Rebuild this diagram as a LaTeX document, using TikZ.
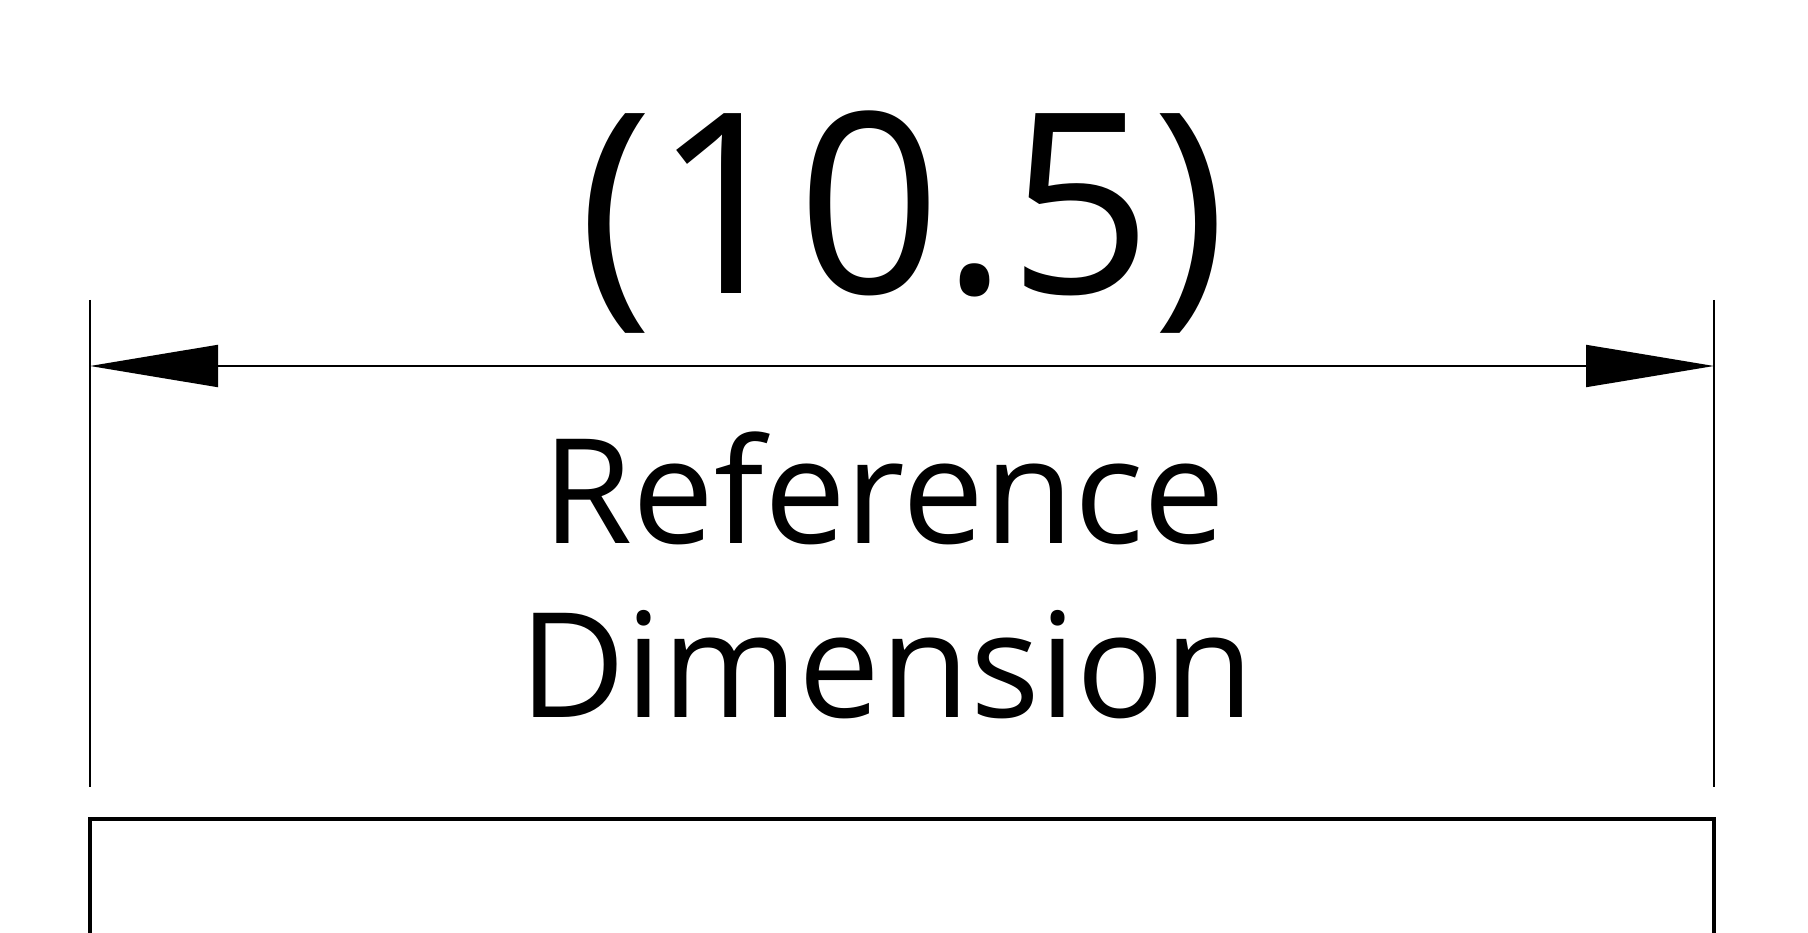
\documentclass[tikz,border=0pt]{standalone}
\usepackage{fontspec}
\setmainfont{Open Sans}
\usetikzlibrary{
	positioning,
	arrows.meta
}

\begin{document}
\begin{tikzpicture}[x=1pt,y=-1pt,
	extline/.style={line width=2pt},
	dimline/.style={line width=2pt,
		{Triangle[length=128pt,width=42pt]}-{Triangle[length=128pt,width=42pt]}},
	partedge/.style={line width=4pt,line join=miter},
	valuetext/.style={font=\fontsize{252}{300}\selectfont,anchor=base,inner sep=0pt},
	notetext/.style={font=\fontsize{146}{174}\selectfont,anchor=base,inner sep=0pt}]
	\useasboundingbox (0,0) rectangle (1808,933);
	% extension lines
	\coordinate (extLtop) at (90,300);
	\coordinate (extLbot) at (90,787);
	\coordinate (extRtop) at (1714,300);
	\coordinate (extRbot) at (1714,787);
	\coordinate (dimL)    at (90,366);
	\coordinate (dimR)    at (1714,366);
	\draw[extline] (extLtop) -- (extLbot);
	\draw[extline] (extRtop) -- (extRbot);
	\draw[dimline] (dimL) -- (dimR);
	% texts
	\draw
		node [valuetext] (value) at (903,294) {(10.5)}
		node [notetext]  (ref)   at (884,543) {Reference}
		node [notetext]  (dim)   at (887,717) {Dimension}
	;
	% part outline
	\draw[partedge] (90,960) -- (90,819) -- (1714,819) -- (1714,960);
\end{tikzpicture}
\end{document}
